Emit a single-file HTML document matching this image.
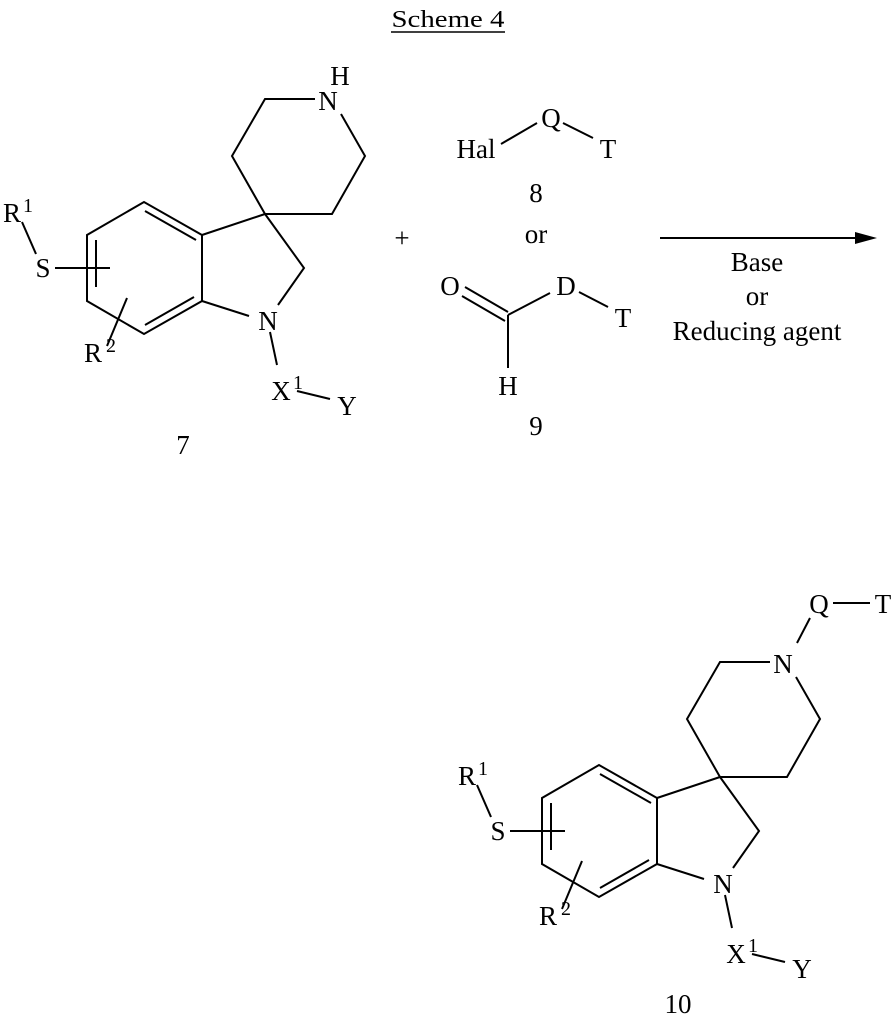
<!DOCTYPE html>
<html><head><meta charset="utf-8"><style>
html,body{margin:0;padding:0;background:#fff;}
svg{display:block;}
text{font-family:"Liberation Serif",serif;font-size:27px;fill:#000;text-anchor:middle;}
.s{font-size:20px;}
</style></head><body>
<svg width="895" height="1025" viewBox="0 0 895 1025" xmlns="http://www.w3.org/2000/svg">
<text x="448" y="27" textLength="113" lengthAdjust="spacingAndGlyphs" style="font-size:24px">Scheme 4</text>
<line x1="391" y1="32" x2="505" y2="32" stroke="#000" stroke-width="1.5"/>
<defs>
<g id="core" stroke="#000" stroke-width="2" fill="none">
  <polyline points="315,99 265,99 232,156 265,214 332,214 365,156 341,114"/>
  <line x1="265" y1="214" x2="202" y2="235"/>
  <polyline points="265,214 304,268 278,305"/>
  <line x1="202" y1="301" x2="249" y2="316"/>
  <polygon points="202,235 144,202 87,235 87,301 144,334 202,301"/>
  <line x1="145" y1="211" x2="196" y2="240"/>
  <line x1="96" y1="240" x2="96" y2="287"/>
  <line x1="145" y1="325" x2="194" y2="297"/>
  <line x1="55" y1="268" x2="110" y2="268"/>
  <line x1="22" y1="222" x2="36" y2="254"/>
  <line x1="107" y1="346" x2="127" y2="298"/>
  <line x1="270" y1="332" x2="277" y2="365"/>
  <line x1="297" y1="391" x2="330" y2="399"/>
</g>
<g id="lab">
  <text x="268" y="330">N</text>
  <text x="43" y="277">S</text>
  <text x="12" y="222">R</text><text class="s" x="28" y="212">1</text>
  <text x="93" y="362">R</text><text class="s" x="111" y="352">2</text>
  <text x="281" y="400">X</text><text class="s" x="298" y="389">1</text>
  <text x="347" y="415">Y</text>
</g>
</defs>
<use href="#core"/><use href="#lab"/>
<text x="328" y="110">N</text>
<text x="340" y="85">H</text>
<text x="183" y="454">7</text>

<g transform="translate(455,563)"><use href="#core"/><use href="#lab"/></g>
<text x="783" y="673">N</text>
<g stroke="#000" stroke-width="2">
<line x1="797" y1="643" x2="810" y2="618"/>
<line x1="833" y1="603" x2="870" y2="603"/>
</g>
<text x="819" y="613">Q</text>
<text x="883" y="613">T</text>
<text x="678" y="1013">10</text>

<text x="402" y="247">+</text>
<g stroke="#000" stroke-width="2">
<line x1="501" y1="144" x2="537" y2="123"/>
<line x1="563" y1="123" x2="593" y2="138"/>
<line x1="465" y1="287" x2="508" y2="312"/>
<line x1="462" y1="296" x2="505" y2="321"/>
<line x1="508" y1="315" x2="550" y2="293"/>
<line x1="579" y1="292" x2="608" y2="307"/>
<line x1="508" y1="315" x2="508" y2="368"/>
<line x1="660" y1="238" x2="858" y2="238"/>
</g>
<polygon points="855,232 877,238 855,244" fill="#000"/>
<text x="476" y="158">Hal</text>
<text x="551" y="127">Q</text>
<text x="608" y="158">T</text>
<text x="536" y="202">8</text>
<text x="536" y="243">or</text>
<text x="450" y="295">O</text>
<text x="566" y="295">D</text>
<text x="623" y="327">T</text>
<text x="508" y="395">H</text>
<text x="536" y="435">9</text>
<text x="757" y="271">Base</text>
<text x="757" y="305">or</text>
<text x="757" y="340">Reducing agent</text>
</svg>
</body></html>
